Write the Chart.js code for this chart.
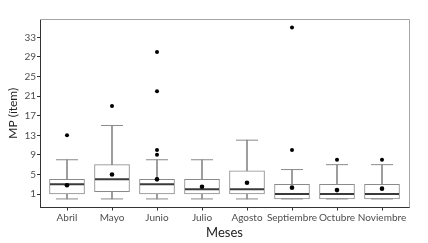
<!DOCTYPE html>
<html>
<head>
<meta charset="utf-8">
<script src="https://cdn.jsdelivr.net/npm/chart.js@4.4.1/dist/chart.umd.min.js"></script>
<style>
  html, body { margin: 0; padding: 0; background: #fff; }
  #wrap { width: 428px; height: 243px; position: relative; }
</style>
</head>
<body>
<div id="wrap"><canvas id="c" width="428" height="243"></canvas></div>
<script>
const categories = ['Abril', 'Mayo', 'Junio', 'Julio', 'Agosto', 'Septiembre', 'Octubre', 'Noviembre'];
const whiskerLow = [0, 0, 0, 0, 0, 0, 0, 0];
const q1 = [1, 1.5, 1, 1, 1, 0, 0, 0];
const median = [3, 4, 3, 2, 2, 1, 1, 1];
const q3 = [4, 7, 4, 4, 5.75, 3, 3, 3];
const whiskerHigh = [8, 15, 8, 8, 12, 6, 7, 7];
const means = [2.8, 5, 4, 2.5, 3.3, 2.3, 1.8, 2.1];
const outliers = [[13], [19], [9, 10, 22, 30], [], [], [10, 35], [8], [8]];
const yTicks = [1, 5, 9, 13, 17, 21, 25, 29, 33];

const gray = '#8a8a8a';
const FONT = 'Lato, "Open Sans", sans-serif';

const borderPlugin = {
  id: 'panelBorder',
  beforeDatasetsDraw(chart) {
    const { ctx, chartArea: a } = chart;
    ctx.save();
    ctx.strokeStyle = '#a5a5a5';
    ctx.lineWidth = 1;
    ctx.beginPath();
    ctx.moveTo(a.left, a.top + 0.5);
    ctx.lineTo(a.right + 0.5, a.top + 0.5);
    ctx.lineTo(a.right + 0.5, a.bottom);
    ctx.stroke();
    ctx.restore();
  }
};

const xs = categories.map((_, i) => i + 1);

new Chart(document.getElementById('c'), {
  type: 'bar',
  data: {
    datasets: [
      {
        type: 'bar',
        label: 'whiskers',
        data: xs.map((x, i) => ({ x, y: [whiskerLow[i], whiskerHigh[i]] })),
        backgroundColor: gray,
        borderWidth: 0,
        barThickness: 1,
        grouped: false,
        order: 6
      },
      {
        type: 'bar',
        label: 'box',
        data: xs.map((x, i) => ({ x, y: [q1[i], q3[i]] })),
        backgroundColor: '#ffffff',
        borderColor: gray,
        borderWidth: 1,
        borderSkipped: false,
        barThickness: 35,
        grouped: false,
        order: 5
      },
      {
        type: 'scatter',
        label: 'caps',
        data: xs.flatMap((x, i) => [{ x, y: whiskerLow[i] }, { x, y: whiskerHigh[i] }]),
        pointStyle: 'line',
        radius: 11,
        borderColor: gray,
        borderWidth: 1,
        order: 4
      },
      {
        type: 'scatter',
        label: 'median',
        data: xs.map((x, i) => ({ x, y: median[i] })),
        pointStyle: 'line',
        radius: 17,
        borderColor: '#3a3a3a',
        borderWidth: 2,
        order: 3
      },
      {
        type: 'scatter',
        label: 'outliers',
        data: xs.flatMap((x, i) => outliers[i].map(v => ({ x, y: v }))),
        pointStyle: 'circle',
        radius: 2,
        backgroundColor: '#000',
        borderWidth: 0,
        order: 2
      },
      {
        type: 'scatter',
        label: 'mean',
        data: xs.map((x, i) => ({ x, y: means[i] })),
        pointStyle: 'circle',
        radius: 2.3,
        backgroundColor: '#000',
        borderWidth: 0,
        order: 1
      }
    ]
  },
  options: {
    responsive: false,
    animation: false,
    events: [],
    layout: { padding: { left: 0, right: 12, top: 5, bottom: 0 } },
    plugins: { legend: { display: false }, tooltip: { enabled: false } },
    scales: {
      x: {
        type: 'linear',
        offset: false,
        min: 0.4,
        max: 8.6,
        afterBuildTicks(s) { s.ticks = xs.map(v => ({ value: v })); },
        afterFit(s) { s.height = 35.5; },
        grid: { offset: false, drawOnChartArea: false, drawTicks: true, tickLength: 3, color: '#333' },
        border: { color: '#333', width: 1 },
        ticks: {
          autoSkip: false,
          maxRotation: 0,
          padding: 1,
          color: '#4d4d4d',
          font: { family: FONT, size: 10 },
          callback: v => categories[v - 1]
        },
        title: {
          display: true,
          text: 'Meses',
          color: '#222',
          font: { family: FONT, size: 13 },
          padding: { top: 0, bottom: 2 }
        }
      },
      y: {
        type: 'linear',
        min: -1.75,
        max: 36.75,
        afterBuildTicks(s) { s.ticks = yTicks.map(v => ({ value: v })); },
        afterFit(s) { s.width = 40; },
        grid: { drawOnChartArea: false, drawTicks: true, tickLength: 3, color: '#333' },
        border: { color: '#333', width: 1 },
        ticks: {
          padding: 1,
          color: '#4d4d4d',
          font: { family: FONT, size: 10 }
        },
        title: {
          display: true,
          text: 'MP (ítem)',
          color: '#222',
          font: { family: FONT, size: 12 },
          padding: { top: 6, bottom: 0 }
        }
      }
    }
  },
  plugins: [borderPlugin]
});
</script>
</body>
</html>
